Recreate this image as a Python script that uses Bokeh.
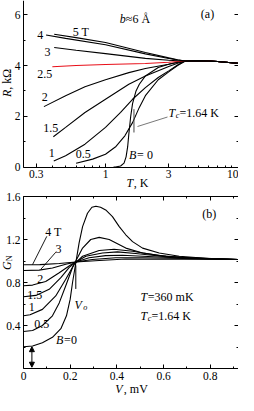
import math
from bokeh.plotting import figure
from bokeh.models import (Label, FixedTicker, LinearAxis, Range1d, Arrow,
                          NormalHead, CustomJSTickFormatter)
from bokeh.layouts import column
from bokeh.embed import file_html
from bokeh.resources import INLINE

FONT = "Liberation Serif"

# ---------------- panel (a): R(T) for several fields B ----------------
a_xticks = [0.3, 1, 3, 10]
a_xminor = [0.4, 0.5, 0.6, 0.7, 0.8, 0.9, 2, 4, 5, 6, 7, 8, 9]
a_yticks = [0, 2, 4, 6]
a_yminor = [1, 3, 5, 7]
a_Tmin, a_Tmax = 0.2404, 10.0
a_Rmin, a_Rmax = 0.0, 7.0

tail_T = [4.0, 5.0, 6.0, 7.0, 8.5, 10.0]
tail_R = [4.18, 4.19, 4.18, 4.16, 4.12, 4.09]

T_b0 = [1.15, 1.19, 1.30, 1.38, 1.43, 1.47, 1.50, 1.55, 1.60, 1.70, 1.80, 2.0, 2.5, 3.0, 3.5]
R_b0 = [0.0, 0.0, 0.04, 0.15, 0.40, 0.80, 1.30, 2.00, 2.50, 3.00, 3.26, 3.59, 3.92, 4.05, 4.13]
T_b05 = [0.6, 0.8, 1.0, 1.2, 1.4, 1.6, 1.8, 2.0, 2.5, 3.0, 3.5]
R_b05 = [0.15, 0.31, 0.50, 0.81, 1.23, 1.75, 2.35, 2.81, 3.44, 3.75, 4.00]
T_b1 = [0.407, 0.5, 0.7, 1.0, 1.3, 1.6, 2.0, 2.5, 3.0, 3.5]
R_b1 = [0.24, 0.44, 0.90, 1.56, 2.15, 2.67, 3.13, 3.53, 3.79, 4.02]
T_b15 = [0.404, 0.5, 0.7, 1.0, 1.5, 2.0, 3.0, 3.5]
R_b15 = [1.19, 1.56, 2.15, 2.67, 3.26, 3.59, 3.96, 4.09]
T_b2 = [0.343, 0.5, 0.7, 1.0, 1.5, 2.0, 3.0, 3.5]
R_b2 = [2.38, 2.81, 3.16, 3.44, 3.72, 3.88, 4.05, 4.13]
T_b25 = [0.397, 0.6, 1.0, 2.0, 3.0, 3.5]
R_b25 = [3.95, 4.00, 4.04, 4.08, 4.13, 4.16]
T_b3 = [0.41, 0.6, 1.0, 2.0, 3.0, 3.5]
R_b3 = [4.71, 4.60, 4.47, 4.28, 4.21, 4.19]
T_b4 = [0.356, 0.5, 1.0, 2.0, 3.0, 3.5]
R_b4 = [5.20, 5.07, 4.82, 4.46, 4.28, 4.22]
T_b5 = [0.41, 0.6, 1.0, 2.0, 3.0, 3.5]
R_b5 = [5.23, 5.10, 4.91, 4.51, 4.30, 4.23]

a_curves = [(T_b0, R_b0, "black"), (T_b05, R_b05, "black"), (T_b1, R_b1, "black"),
            (T_b15, R_b15, "black"), (T_b2, R_b2, "black"), (T_b25, R_b25, "#e8101a"),
            (T_b3, R_b3, "black"), (T_b4, R_b4, "black"), (T_b5, R_b5, "black")]

Tc_T = 1.64
Tc_R = [1.36, 2.28]

# ---------------- panel (b): normalized conductance G_N(V) ----------------
b_xticks = [0, 0.2, 0.4, 0.6, 0.8]
b_xminor = [0.1, 0.3, 0.5, 0.7, 0.9]
b_yticks = [0.4, 0.8, 1.2, 1.6]
b_yminor = [0.2, 0.6, 1.0, 1.4]
b_Vmin, b_Vmax = 0.0, 0.92
b_Gmin, b_Gmax = 0.0, 1.6

V_b0 = [0, 0.039, 0.081, 0.124, 0.16, 0.184, 0.2, 0.21, 0.224, 0.238, 0.253, 0.274, 0.293,
        0.31, 0.33, 0.352, 0.381, 0.41, 0.438, 0.467, 0.51, 0.581, 0.667, 0.795, 0.92]
G_b0 = [0.203, 0.21, 0.24, 0.29, 0.37, 0.49, 0.645, 0.80, 0.983, 1.167, 1.32, 1.444, 1.50,
        1.51, 1.50, 1.475, 1.413, 1.32, 1.244, 1.18, 1.12, 1.075, 1.044, 1.023, 1.014]
V_b05 = [0, 0.039, 0.081, 0.124, 0.153, 0.181, 0.21, 0.224, 0.253, 0.288, 0.324, 0.367,
         0.438, 0.51, 0.61, 0.752, 0.92]
G_b05 = [0.344, 0.353, 0.40, 0.49, 0.61, 0.77, 0.94, 1.0, 1.12, 1.20, 1.22, 1.20,
         1.12, 1.075, 1.044, 1.023, 1.014]
V_b1 = [0, 0.028, 0.081, 0.138, 0.181, 0.217, 0.253, 0.324, 0.388, 0.467, 0.581, 0.71, 0.92]
G_b1 = [0.49, 0.50, 0.55, 0.675, 0.83, 0.97, 1.044, 1.097, 1.11, 1.09, 1.05, 1.027, 1.014]
V_b15 = [0, 0.053, 0.11, 0.16, 0.196, 0.224, 0.267, 0.338, 0.402, 0.48, 0.61, 0.92]
G_b15 = [0.667, 0.68, 0.737, 0.845, 0.94, 0.99, 1.044, 1.075, 1.085, 1.07, 1.04, 1.014]
V_b2 = [0, 0.039, 0.095, 0.153, 0.203, 0.224, 0.281, 0.352, 0.424, 0.51, 0.653, 0.92]
G_b2 = [0.77, 0.776, 0.81, 0.89, 0.965, 0.99, 1.03, 1.05, 1.053, 1.044, 1.03, 1.014]
V_b3 = [0, 0.067, 0.124, 0.181, 0.224, 0.295, 0.395, 0.51, 0.92]
G_b3 = [0.912, 0.915, 0.935, 0.97, 0.99, 1.014, 1.03, 1.03, 1.014]
V_b4 = [0, 0.07, 0.153, 0.224, 0.324, 0.438, 0.92]
G_b4 = [0.965, 0.966, 0.977, 0.99, 1.005, 1.018, 1.014]

b_curves = [(V_b0, G_b0), (V_b05, G_b05), (V_b1, G_b1), (V_b15, G_b15),
            (V_b2, G_b2), (V_b3, G_b3), (V_b4, G_b4)]

V0_V = 0.224
V0_G = [0.74, 0.96]
gap_V = 0.036
gap_G = [0.203, 0.012]

# ---------------- layout constants (page pixels) ----------------
# panel a: canvas x 8..246, y 8..199 ; T=1 at x=113, 132.5 px/decade ; R=0 at y=174.5, 25.37 px/unit
# panel b: canvas x 8..246, y 199..403 ; V=0 at x=31, 233.5 px/unit ; G=0 at y=376, 107.5 px/unit
WID = {"0": .5, "1": .5, "2": .5, "3": .5, "4": .5, "5": .5, "6": .5, "7": .5, "8": .5, "9": .5,
       ".": .25, " ": .25, ",": .25, "=": .564, "T": .611, "K": .722, "m": .778, "V": .722,
       "B": .667, "b": .5, "≈": .549, "Å": .722, "c": .444, "R": .611, "k": .5, "Ω": .768,
       "G": .722, "N": .722, "(": .333, ")": .333, "a": .444, "o": .5}


def tw(s, size):
    return sum(WID.get(ch, 0.5) for ch in s) * size


def a_xy(px, py):
    return 10 ** ((px - 113.0) / 132.5), (174.5 - py) / 25.37


def b_ref(px, py):  # positions read in the reference frame of panel b
    return (px - 31.0) / 233.5, (380.1 - py) / 108.5


def b_xy(px, py):  # own page positions in panel b
    return (px - 31.0) / 233.5, (376.0 - py) / 107.5


def rich(p, x, y, parts, size=12, anchor="center"):
    sizes = [size * 0.68 if sub else size for _, _, sub in parts]
    widths = [tw(t, s) for (t, _, _), s in zip(parts, sizes)]
    off = -sum(widths) / 2 if anchor == "center" else 0.0
    for (t, it, sub), s, w in zip(parts, sizes, widths):
        p.add_layout(Label(x=x, y=y, x_offset=off, y_offset=(-3 if sub else 0), text=t,
                           text_font=FONT, text_font_style="italic" if it else "normal",
                           text_font_size=f"{s:.1f}px", text_color="black",
                           text_align="left", text_baseline="middle"))
        off += w


def vlabel(p, x, y, t, style="normal", size=12):
    p.add_layout(Label(x=x, y=y, text=t, angle=math.pi / 2, text_font=FONT,
                       text_font_style=style, text_font_size=f"{size}px", text_color="black",
                       text_align="left", text_baseline="middle"))


def style_axis(ax, ticks, minor, code, fixed, bounds, labels=True):
    ax.fixed_location = fixed
    ax.bounds = bounds
    ax.ticker = FixedTicker(ticks=ticks, minor_ticks=minor)
    ax.major_tick_in = 4
    ax.major_tick_out = 0
    ax.minor_tick_in = 2
    ax.minor_tick_out = 0
    ax.axis_line_color = "black"
    ax.major_tick_line_color = "black"
    ax.minor_tick_line_color = "black"
    ax.major_label_text_font = FONT
    ax.major_label_text_color = "black"
    if labels:
        ax.major_label_text_font_size = "11.5px"
        ax.major_label_standoff = 3
        ax.formatter = CustomJSTickFormatter(code=code)
    else:
        ax.major_label_text_font_size = "0px"
        ax.major_label_standoff = 0
        ax.formatter = CustomJSTickFormatter(code="return ''")


fmt_plain = "return tick.toString();"
fmt_one = "return tick == 0 ? '0' : tick.toFixed(1);"

# ---------------- panel (a) ----------------
ax0, ay1 = a_xy(8, 8)
ax1, ay0 = a_xy(246, 199)
pa = figure(width=238, height=191, x_axis_type="log",
            x_range=Range1d(ax0, ax1), y_range=Range1d(ay0, ay1),
            output_backend="svg", toolbar_location=None, min_border=0,
            min_border_left=0, min_border_right=0, min_border_top=0, min_border_bottom=0,
            background_fill_color="white", border_fill_color="white")
pa.outline_line_color = None
pa.grid.visible = False
style_axis(pa.xaxis[0], a_xticks, a_xminor, fmt_plain, 0, (a_Tmin, a_Tmax))
style_axis(pa.yaxis[0], a_yticks, a_yminor, fmt_plain, a_Tmin, (a_Rmin, a_Rmax))
ra = LinearAxis()
style_axis(ra, a_yticks, a_yminor, "", a_Tmax, (a_Rmin, a_Rmax), labels=False)
pa.add_layout(ra, "right")

for T, R, col in a_curves:
    pa.line(T + tail_T, R + tail_R, line_color=col, line_width=1.1)

pa.line([Tc_T, Tc_T], Tc_R, line_color="#444444", line_width=1.0)
lx0, ly0 = a_xy(145, 134)
lx1, ly1 = a_xy(175, 124.5)
pa.line([lx0, lx1], [ly0, ly1], line_color="#555555", line_width=0.8)

for txt, px, py in [("4", 47.7, 42.7), ("5 T", 88.3, 39.3), ("3", 55, 59.3), ("2.5", 52.3, 81.7),
                    ("2", 52.3, 104), ("1.5", 58.3, 135), ("1", 59.3, 160), ("0.5", 90.7, 161.7),
                    ("(a)", 215, 21.7)]:
    x, y = a_xy(px, py)
    rich(pa, x, y, [(txt, False, False)])

x, y = a_xy(150, 162.7)
rich(pa, x, y, [("B", True, False), (" = 0", False, False)])
x, y = a_xy(142.5, 26.7)
rich(pa, x, y, [("b", True, False), ("≈6 Å", False, False)])
x, y = a_xy(176, 120)
rich(pa, x, y, [("T", True, False), ("c", True, True), ("=1.64 K", False, False)], anchor="left")
# axis titles
x, y = a_xy(145, 190)
rich(pa, x, y, [("T", True, False), (", K", False, False)])
x, _ = a_xy(14.5, 0)
_, y = a_xy(0, 104.5)
vlabel(pa, x, y, "R", "italic")
_, y = a_xy(0, 97.2)
vlabel(pa, x, y, ", kΩ")

# ---------------- panel (b) ----------------
bx0, by1 = b_xy(8, 199)
bx1, by0 = b_xy(246, 403)
pb = figure(width=238, height=204, x_range=Range1d(bx0, bx1), y_range=Range1d(by0, by1),
            output_backend="svg", toolbar_location=None, min_border=0,
            min_border_left=0, min_border_right=0, min_border_top=0, min_border_bottom=0,
            background_fill_color="white", border_fill_color="white")
pb.outline_line_color = None
pb.grid.visible = False
style_axis(pb.xaxis[0], b_xticks, b_xminor, fmt_one, b_Gmin, (b_Vmin, b_Vmax))
style_axis(pb.yaxis[0], b_yticks, b_yminor, fmt_one, b_Vmin, (b_Gmin, b_Gmax))
rb = LinearAxis()
style_axis(rb, b_yticks, b_yminor, "", b_Vmax, (b_Gmin, b_Gmax), labels=False)
pb.add_layout(rb, "right")
tb = LinearAxis()
style_axis(tb, b_xticks, b_xminor, "", b_Gmax, (b_Vmin, b_Vmax), labels=False)
pb.add_layout(tb, "above")

for V, G in b_curves:
    pb.line(V, G, line_color="black", line_width=1.1)

pb.line([V0_V, V0_V], V0_G, line_color="black", line_width=1.0)
for (p0, p1) in [((54.3, 246.7), (40, 275.3)), ((63.3, 262.7), (48.3, 280))]:
    x0, y0 = b_ref(*p0)
    x1, y1 = b_ref(*p1)
    pb.line([x0, x1], [y0, y1], line_color="black", line_width=0.9)

pb.add_layout(Arrow(x_start=gap_V, y_start=gap_G[0], x_end=gap_V, y_end=gap_G[1],
                    start=NormalHead(size=5, fill_color="black", line_color="black"),
                    end=NormalHead(size=5, fill_color="black", line_color="black"),
                    line_color="black", line_width=1))

for txt, px, py in [("4 T", 61, 242.7), ("3", 66, 259.3), ("2", 47.7, 289.3), ("1.5", 42.3, 306),
                    ("1", 39.3, 318.3), ("0.5", 49.3, 335), ("(b)", 216.7, 224)]:
    x, y = b_ref(px, py)
    rich(pb, x, y, [(txt, False, False)])
x, y = b_ref(74, 351.7)
rich(pb, x, y, [("B", True, False), ("=0", False, False)])
x, y = b_ref(82, 316)
rich(pb, x, y, [("V", True, False), ("o", True, True)], anchor="left")
x, y = b_ref(148, 307.7)
rich(pb, x, y, [("T", True, False), ("=360 mK", False, False)], anchor="left")
x, y = b_ref(148, 326.7)
rich(pb, x, y, [("T", True, False), ("c", True, True), ("=1.64 K", False, False)], anchor="left")
# axis titles
x, y = b_xy(139, 396.5)
rich(pb, x, y, [("V", True, False), (", mV", False, False)])
x, _ = b_xy(14.0, 0)
_, y = b_xy(0, 277.5)
vlabel(pb, x, y, "G", "italic")
x, _ = b_xy(17.0, 0)
_, y = b_xy(0, 268.8)
vlabel(pb, x, y, "N", size=8)

layout = column(pa, pb, spacing=0)
open("out.html", "w").write(file_html(layout, INLINE))
